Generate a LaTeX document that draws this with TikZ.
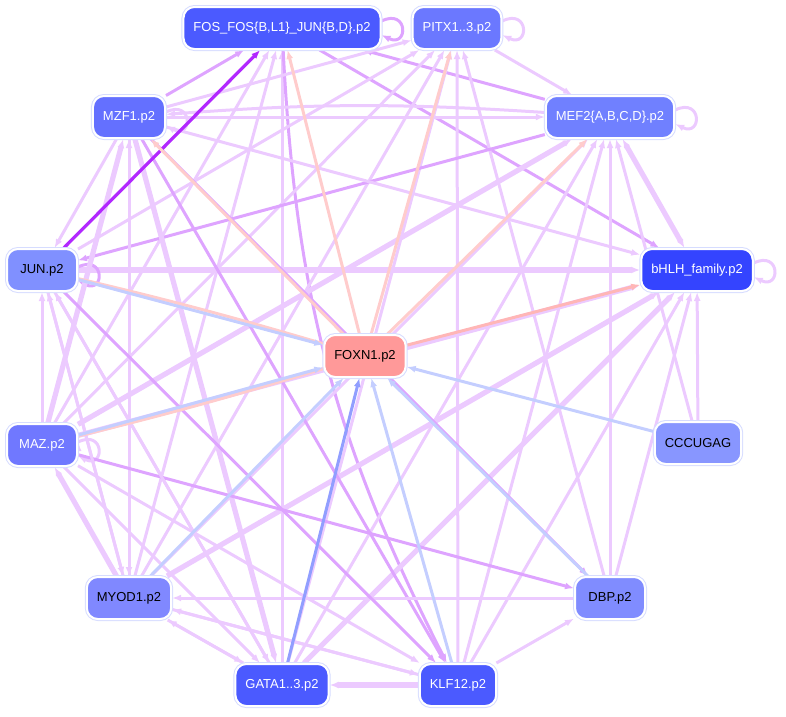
\documentclass[tikz,border=0pt]{standalone}
\usepackage{fontspec}
\setmainfont{Liberation Sans}
\usetikzlibrary{positioning, arrows.meta}
\definecolor{lpurple}{RGB}{236,202,255}
\definecolor{mpurple}{RGB}{222,164,255}
\definecolor{spurple}{RGB}{178,40,255}
\definecolor{lsalmon}{RGB}{255,204,204}
\definecolor{dsalmon}{RGB}{255,182,182}
\definecolor{lblue}{RGB}{196,206,255}
\definecolor{mblue}{RGB}{145,158,255}
\definecolor{rim}{RGB}{214,220,255}
\pgfdeclarelayer{links}
\pgfsetlayers{links,main}
\tikzset{->,
         >={Latex[length=9pt,width=7pt]},
         every node/.style={font=\fontsize{13}{15}\selectfont},
         tf/.style={rounded corners=11pt, draw=white, line width=2pt,
                    preaction={draw=rim, line width=4pt, -},
                    minimum width=70pt, minimum height=42pt,
                    inner xsep=10pt, text=white},
         dark/.style={text=black},
         lp/.style={draw=lpurple, line width=3pt},
         mp/.style={draw=mpurple, line width=3pt},
         sp/.style={draw=spurple, line width=3.2pt},
         sal/.style={draw=lsalmon, line width=3pt},
         lb/.style={draw=lblue, line width=3pt},
         mb/.style={draw=mblue, line width=3pt},
         heavy/.style={line width=5.2pt},
         selfloop/.style={to path={.. controls +(27,-13) and +(27,13) .. (\tikztotarget)}},
         }

\begin{document}
\begin{tikzpicture}[x=1pt, y=-1pt]
    \useasboundingbox (0,0) rectangle (786,716);

    \node[tf, fill={rgb,255:red,75;green,90;blue,255}] (fos) at (282,28) {FOS\_FOS\{B,L1\}\_JUN\{B,D\}.p2};
    \node[tf, fill={rgb,255:red,107;green,120;blue,255}] (pitx) at (457,28) {PITX1..3.p2};
    \node[tf, fill={rgb,255:red,100;green,112;blue,255}] (mzf) at (129,117) {MZF1.p2};
    \node[tf, fill={rgb,255:red,112;green,128;blue,255}] (mef) at (610,117) {MEF2\{A,B,C,D\}.p2};
    \node[tf, dark, fill={rgb,255:red,128;green,144;blue,255}] (jun) at (42,270) {JUN.p2};
    \node[tf, fill={rgb,255:red,52;green,68;blue,255}] (bhlh) at (697,270) {bHLH\_family.p2};
    \node[tf, dark, fill={rgb,255:red,255;green,153;blue,153}] (foxn) at (365,356) {FOXN1.p2};
    \node[tf, fill={rgb,255:red,112;green,120;blue,255}] (maz) at (42,445) {MAZ.p2};
    \node[tf, dark, fill={rgb,255:red,136;green,150;blue,255}] (cccu) at (698,443) {CCCUGAG};
    \node[tf, dark, fill={rgb,255:red,128;green,136;blue,255}] (myod) at (129,598) {MYOD1.p2};
    \node[tf, dark, fill={rgb,255:red,128;green,140;blue,255}] (dbp) at (610,598) {DBP.p2};
    \node[tf, fill={rgb,255:red,75;green,90;blue,255}] (gata) at (282,685) {GATA1..3.p2};
    \node[tf, fill={rgb,255:red,75;green,90;blue,255}] (klf) at (458,685) {KLF12.p2};

    \begin{pgfonlayer}{links}
    % purple links between the motifs
    \draw[lpurple]
            (mzf) edge[mp] (fos)
            (maz) edge[lp] (fos)
            (myod) edge[lp] (fos)
            (gata) edge[lp] (fos)
            (mef) edge[mp] (fos)
            (fos) edge[mp] (bhlh)
            (fos) edge[mp, bend right=12] (klf)
            ([yshift=7pt]fos.east) edge[mp, selfloop] ([yshift=-7pt]fos.east)
            (mzf) edge[lp] (pitx)
            (jun) edge[lp] (pitx)
            (klf) edge[lp] (pitx)
            (dbp) edge[lp] (pitx)
            (gata) edge[lp] (pitx)
            (maz) edge[lp] (pitx)
            (myod) edge[lp] (pitx)
            (pitx) edge[lp] (mef)
            ([yshift=7pt]pitx.east) edge[lp, selfloop] ([yshift=-7pt]pitx.east)
            (mzf) edge[lp] (mef)
            (maz) edge[lp, heavy] (mef)
            (myod) edge[lp] (mef)
            (gata) edge[lp] (mef)
            (klf) edge[lp] (mef)
            (dbp) edge[lp] (mef)
            (cccu) edge[lp] (mef)
            (mef) edge[lp, heavy, <->] (bhlh)
            (mef) edge[mp] (jun)
            (mef) edge[lp, bend right=4] (mzf)
            ([yshift=7pt]mef.east) edge[lp, selfloop] ([yshift=-7pt]mef.east)
            (jun) edge[lp, heavy] (bhlh)
            (mzf) edge[lp] (bhlh)
            (maz) edge[lp, heavy] (bhlh)
            (myod) edge[lp, heavy] (bhlh)
            (gata) edge[lp, heavy] (bhlh)
            (klf) edge[lp] (bhlh)
            (dbp) edge[lp] (bhlh)
            (cccu) edge[lp] (bhlh)
            ([yshift=7pt]bhlh.east) edge[lp, selfloop] ([yshift=-7pt]bhlh.east)
            (mzf) edge[lp] (jun)
            (maz) edge[lp] (jun)
            (myod) edge[lp] (jun)
            (gata) edge[lp] (jun)
            ([yshift=3pt]jun.east) edge[mp, selfloop] ([yshift=-11pt]jun.east)
            (maz) edge[lp, heavy] (mzf)
            (myod) edge[lp] (mzf)
            ([yshift=5pt]mzf.east) edge[lp, selfloop] ([yshift=-9pt]mzf.east)
            (mzf) edge[mp] (dbp)
            (mzf) edge[mp] (klf)
            (mzf) edge[lp, heavy] (gata)
            (mzf) edge[lp] (myod)
            ([yshift=3pt]maz.east) edge[lp, selfloop] ([yshift=-11pt]maz.east)
            (myod) edge[lp, heavy] (maz)
            (maz) edge[mp] (dbp)
            (maz) edge[lp] (klf)
            (maz) edge[lp] (gata)
            (jun) edge[lp] (myod)
            (dbp) edge[lp] (myod)
            (klf) edge[lp] (myod)
            (gata) edge[lp] (myod)
            (myod) edge[lp] (gata)
            (myod) edge[lp] (klf)
            (klf) edge[lp, heavy] (gata)
            (jun) edge[lp] (gata)
            (jun) edge[mp] (klf)
            (klf) edge[lp] (dbp);

    % links into and out of FOXN1
    \draw[lblue]
            (jun) edge[sp] (fos)
            (foxn) edge[sal] (fos)
            (foxn) edge[sal] (pitx)
            (foxn) edge[sal] (mzf)
            (foxn) edge[sal] (mef)
            (foxn) edge[sal, draw=dsalmon] (bhlh)
            (jun) edge[sal, -, bend left=1.5] (foxn)
            (jun) edge[lb] (foxn)
            (maz) edge[sal, -, bend right=1.5] (foxn)
            (maz) edge[lb] (foxn)
            (myod) edge[lb] (foxn)
            (gata) edge[mb] (foxn)
            (klf) edge[lb] (foxn)
            (dbp) edge[lb] (foxn)
            (cccu) edge[lb] (foxn);
    \end{pgfonlayer}
\end{tikzpicture}
\end{document}
